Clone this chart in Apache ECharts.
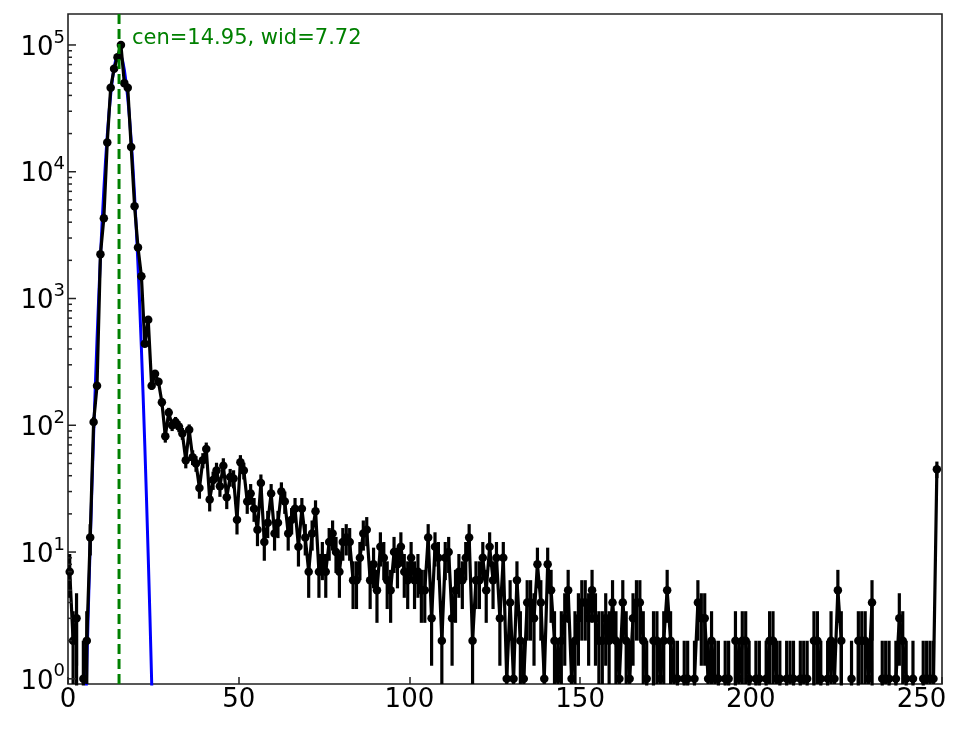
<!DOCTYPE html>
<html>
<head>
<meta charset="utf-8">
<script src="https://cdn.jsdelivr.net/npm/echarts@6/dist/echarts.min.js"></script>
<style>
  html, body { margin: 0; padding: 0; background: #fff; }
  #chart { width: 964px; height: 729px; }
</style>
</head>
<body>
<div id="chart"></div>
<script>
// histogram counts, one per bin, bin i is drawn at i + 0.5
const binOffset = 0.5
const counts = [
  7, 2, 3, 0, 1, 2, 13, 106, 205, 2230,
  4300, 17000, 46000, 65000, 80000, 100000, 50000, 46000, 15700, 5350,
  2530, 1500, 440, 680, 205, 255, 220, 152, 82, 126,
  100, 106, 98, 86, 53, 92, 56, 50, 32, 53,
  65, 26, 37, 44, 33, 48, 27, 39, 38, 18,
  51, 44, 25, 29, 22, 15, 35, 12, 17, 29,
  14, 17, 30, 25, 14, 18, 22, 11, 22, 13,
  7, 14, 21, 7, 9, 7, 12, 14, 10, 7,
  12, 13, 12, 6, 6, 9, 14, 15, 6, 8,
  5, 11, 9, 6, 5, 10, 8, 11, 7, 6,
  9, 6, 7, 5, 5, 13, 3, 11, 9, 2,
  9, 10, 3, 5, 7, 6, 9, 13, 2, 6,
  6, 9, 5, 11, 6, 9, 3, 9, 1, 4,
  1, 6, 2, 1, 4, 4, 3, 8, 4, 1,
  8, 5, 2, 1, 2, 3, 5, 1, 2, 3,
  4, 4, 3, 5, 3, 2, 2, 3, 2, 4,
  2, 1, 4, 2, 1, 3, 4, 4, 2, 1,
  0, 2, 2, 1, 2, 5, 2, 1, 1, 0,
  1, 1, 0, 1, 4, 3, 3, 1, 2, 1,
  1, 0, 1, 1, 0, 2, 1, 2, 2, 1,
  0, 1, 1, 0, 1, 2, 2, 1, 1, 0,
  1, 1, 1, 0, 1, 1, 1, 0, 2, 2,
  1, 0, 1, 2, 1, 5, 2, 0, 0, 1,
  0, 2, 2, 2, 1, 4, 0, 0, 1, 1,
  1, 0, 1, 3, 2, 1, 0, 1, 0, 0,
  1, 1, 1, 1, 45
]

// blue fit curve
const fitX = [4.5, 5, 5.5, 6, 6.5, 7, 7.5, 8, 8.5, 9, 9.5, 10, 10.5, 11, 11.5, 12, 12.5, 13, 13.5, 14, 14.5,
  14.95, 15.5, 16, 16.5, 17, 17.5, 18, 18.5, 19, 19.5, 20, 20.5, 21, 21.5, 22, 22.5, 23, 23.5, 24, 24.5, 25, 25.5]
const fitY = [0.10, 0.36, 1.2, 3.9, 11.4, 32, 83, 205, 475, 1025, 2100, 4030, 7240, 12200, 19400, 29000, 40600, 53500, 66100, 76800, 83900,
  86000, 82800, 74900, 63700, 50900, 38200, 26900, 17800, 11100, 6470, 3550, 1830, 883, 403, 172, 69, 26, 9.2, 3.1, 0.96, 0.28, 0.08]

const cen = 14.95
const fitText = 'cen=14.95, wid=7.72'

// axis ranges and ticks
const xMin = 0, xMax = 256, xStep = 50
const yMin = 0.91, yMax = 175500
const majorTicks = [1, 10, 100, 1000, 10000, 100000]
const minorMults = [2, 3, 4, 5, 6, 7, 8, 9]

const FONT = 'DejaVu Sans'
// zero counts go down off the bottom, like matplotlib's clipped log axis
const FLOOR = 1e-20

const minorTicks = []
majorTicks.forEach(d => minorMults.forEach(m => { if (d * m < yMax) minorTicks.push(d * m) }))

const lineData = counts.map((c, i) => c > 0
  ? [i + binOffset, c]
  : { value: [i + binOffset, FLOOR], symbol: 'none' })

// poisson error bars, sqrt(N)
const errData = []
counts.forEach((c, i) => {
  if (c <= 0) return
  const e = Math.sqrt(c)
  errData.push([i + binOffset, Math.max(c - e, FLOOR), c + e])
})

function tickSeries(values, len) {
  return {
    type: 'custom',
    data: values.map(v => [xMin, v]),
    silent: true,
    z: 10,
    renderItem: (params, api) => {
      const p = api.coord([api.value(0), api.value(1)])
      return {
        type: 'line',
        shape: { x1: p[0], y1: p[1], x2: p[0] + len, y2: p[1] },
        style: { stroke: '#222', lineWidth: 1.5 }
      }
    }
  }
}

const chart = echarts.init(document.getElementById('chart'))

chart.setOption({
  animation: false,
  backgroundColor: '#fff',
  grid: {
    left: 68, right: 22, top: 14, bottom: 45,
    show: true, borderColor: '#222', borderWidth: 1.6
  },
  xAxis: {
    type: 'value',
    min: xMin, max: xMax, interval: xStep,
    axisLine: { show: false },
    splitLine: { show: false },
    axisTick: { inside: true, length: 7, lineStyle: { color: '#222', width: 1.5 } },
    axisLabel: {
      color: '#000', fontSize: 26, fontFamily: FONT, margin: 3,
      formatter: v => (v % xStep === 0 ? String(v) : '')
    }
  },
  yAxis: {
    type: 'log',
    logBase: 10,
    min: yMin, max: yMax,
    axisLine: { show: false },
    splitLine: { show: false },
    axisTick: { show: false },
    axisLabel: {
      margin: 3,
      formatter: v => {
        const e = Math.log10(v)
        const r = Math.round(e)
        if (Math.abs(e - r) > 1e-6) return ''
        return '{b|10}{s|' + r + '}'
      },
      rich: {
        b: { fontSize: 26, fontFamily: FONT, color: '#000', padding: [6, 0, 0, 0] },
        s: { fontSize: 18, fontFamily: FONT, color: '#000', verticalAlign: 'top' }
      }
    }
  },
  graphic: [{
    type: 'text',
    left: 132, top: 28,
    style: { text: fitText, fill: '#008000', fontSize: 21, fontFamily: FONT }
  }],
  series: [
    {
      // fit
      type: 'line',
      data: fitX.map((x, i) => [x, fitY[i]]),
      symbol: 'none',
      clip: true,
      z: 2,
      lineStyle: { color: '#0000ff', width: 3 }
    },
    {
      // error bars
      type: 'custom',
      data: errData,
      clip: true,
      z: 3,
      renderItem: (params, api) => {
        const lo = api.coord([api.value(0), api.value(1)])
        const hi = api.coord([api.value(0), api.value(2)])
        return {
          type: 'line',
          shape: { x1: lo[0], y1: lo[1], x2: hi[0], y2: hi[1] },
          style: { stroke: '#000', lineWidth: 3.2 }
        }
      }
    },
    {
      // counts
      type: 'line',
      data: lineData,
      symbol: 'circle',
      symbolSize: 8.5,
      clip: true,
      z: 4,
      lineStyle: { color: '#000', width: 3.2 },
      itemStyle: { color: '#000' }
    },
    {
      // centre line
      type: 'line',
      data: [[cen, yMin], [cen, yMax]],
      symbol: 'none',
      clip: true,
      z: 5,
      lineStyle: { color: '#008000', width: 3, type: [10, 5] }
    },
    tickSeries(majorTicks, 8),
    tickSeries(minorTicks, 4)
  ]
})
</script>
</body>
</html>
